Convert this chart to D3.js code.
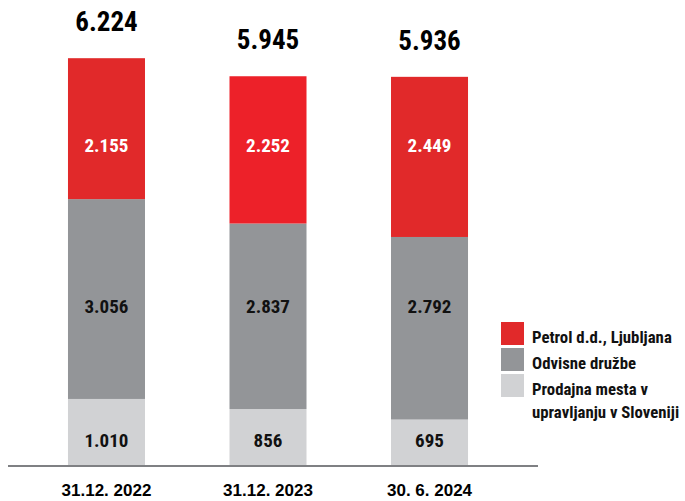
<!DOCTYPE html>
<html><head><meta charset="utf-8">
<script src="https://cdn.jsdelivr.net/npm/d3@7"></script>
<style>
body{margin:0;background:#fff;}
text{font-family:"Liberation Sans Narrow","Roboto Condensed","Arial Narrow",sans-serif;font-weight:bold;}
</style></head>
<body><svg id="c" width="685" height="501"></svg>
<script>
const categories = ["31.12. 2022", "31.12. 2023", "30. 6. 2024"];
const prodajnaMesta = [1010, 856, 695];
const odvisneDruzbe = [3056, 2837, 2792];
const petrol = [2155, 2252, 2449];
const totals = [6224, 5945, 5936];
const legendLines = [["Petrol d.d., Ljubljana"], ["Odvisne družbe"], ["Prodajna mesta v", "upravljanju v Sloveniji"]];

const fmt = v => d3.format(",")(v).replace(/,/g, ".");
const svg = d3.select("#c");
const keys = ["prodajna", "odvisne", "petrol"];
const rows = categories.map((c, i) => ({cat: c, prodajna: prodajnaMesta[i], odvisne: odvisneDruzbe[i], petrol: petrol[i], total: totals[i]}));
const stack = d3.stack().keys(keys)(rows);

const x = d3.scaleBand().domain(categories).range([27.6, 508.4]).paddingInner(0.5232).paddingOuter(0.25);
const y = d3.scaleLinear().domain([0, 6224]).range([465, 58]);

const fills = {prodajna: "#D1D2D4", odvisne: "#939598", petrol: "#E1292A"};
const redByCat = {"31.12. 2023": "#ED2129"};
const textFill = {prodajna: "#111", odvisne: "#111", petrol: "#fff"};
const labelBaseline = {prodajna: 447, odvisne: 313, petrol: 152};

stack.forEach(layer => {
  const g = svg.append("g");
  g.selectAll("rect").data(layer).join("rect")
    .attr("x", d => x(d.data.cat)).attr("width", x.bandwidth())
    .attr("y", d => y(d[1])).attr("height", d => y(d[0]) - y(d[1]))
    .attr("fill", d => layer.key === "petrol" && redByCat[d.data.cat] ? redByCat[d.data.cat] : fills[layer.key]);
  g.selectAll("text").data(layer).join("text")
    .attr("x", d => x(d.data.cat) + x.bandwidth() / 2)
    .attr("y", labelBaseline[layer.key])
    .attr("text-anchor", "middle").attr("font-size", 19)
    .attr("fill", textFill[layer.key])
    .text(d => fmt(d.data[layer.key]));
});

svg.selectAll("text.total").data(rows).join("text").attr("class", "total")
  .attr("x", d => x(d.cat) + x.bandwidth() / 2)
  .attr("y", d => y(d.total) - 27)
  .attr("text-anchor", "middle").attr("font-size", 27).attr("fill", "#000")
  .text(d => fmt(d.total));

svg.append("line").attr("x1", 8).attr("x2", 538).attr("y1", 466).attr("y2", 466)
  .attr("stroke", "#7f8083").attr("stroke-width", 2);

const xAxis = svg.append("g").attr("transform", "translate(0,466)")
  .call(d3.axisBottom(x).tickSize(0).tickPadding(20));
xAxis.select(".domain").remove();
xAxis.selectAll("text").attr("font-size", 17).attr("fill", "#000").attr("dy", null).attr("y", 30)
  .style("font-family", "'Liberation Sans Narrow','Arial Narrow',sans-serif").style("font-weight", "bold");

const legendKeys = ["petrol", "odvisne", "prodajna"];
const lg = svg.append("g");
const textBase = [343, 369, 395];
legendKeys.forEach((k, i) => {
  lg.append("rect").attr("x", 501).attr("y", 322 + i * 26).attr("width", 23).attr("height", 23).attr("fill", fills[k]);
  const t = lg.append("text").attr("x", 532).attr("y", textBase[i]).attr("font-size", 16.8).attr("fill", "#111");
  legendLines[i].forEach((line, j) => {
    t.append("tspan").attr("x", 532).attr("dy", j === 0 ? 0 : 23).text(line);
  });
});
</script></body></html>
